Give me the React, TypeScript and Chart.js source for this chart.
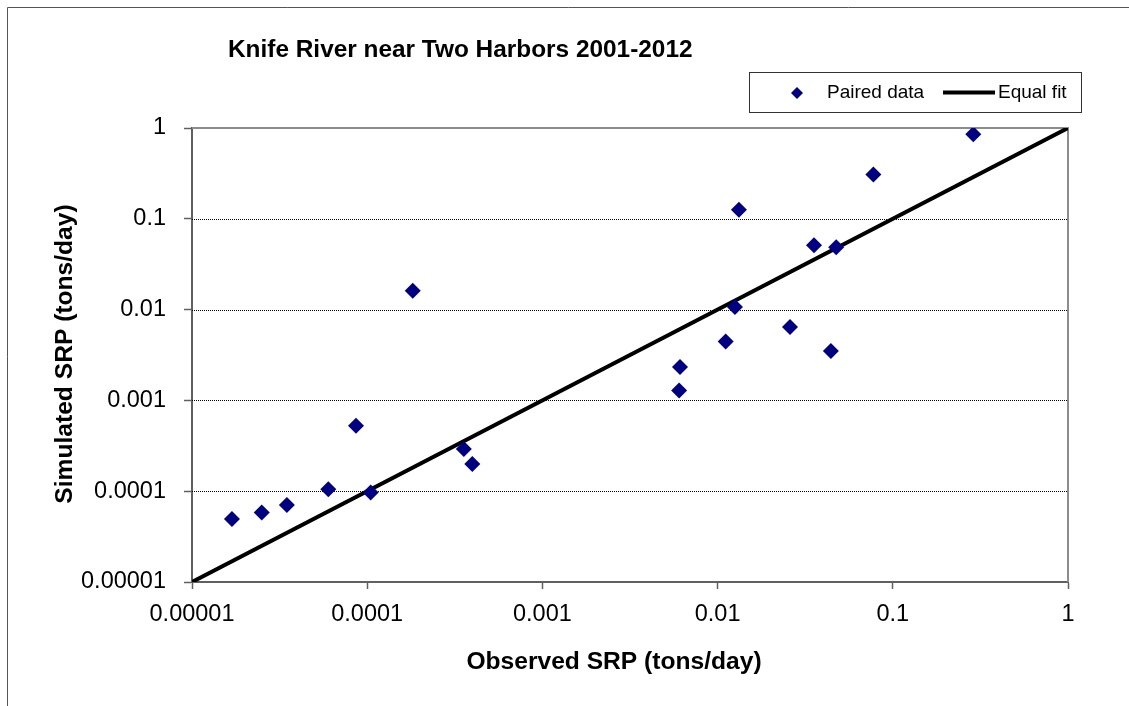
import { useEffect, useRef } from "react";
import { Chart, registerables } from "chart.js";

Chart.register(...registerables);

const chartTitle = "Knife River near Two Harbors 2001-2012";
const xAxisTitle = "Observed SRP (tons/day)";
const yAxisTitle = "Simulated SRP (tons/day)";
const pairedLabel = "Paired data";
const fitLabel = "Equal fit";

const observed = [
  1.69e-5, 2.5e-5, 3.48e-5, 6.0e-5, 8.63e-5, 1.047e-4, 1.82e-4, 3.56e-4, 3.98e-4,
  6.03e-3, 6.1e-3, 0.01112, 0.01256, 0.01324, 0.0259, 0.0355, 0.0443, 0.0475, 0.0775, 0.288,
];
const simulated = [
  4.95e-5, 5.81e-5, 7.06e-5, 1.05e-4, 5.25e-4, 9.66e-5, 0.01615, 2.92e-4, 1.99e-4,
  1.285e-3, 2.33e-3, 4.46e-3, 0.01069, 0.1254, 6.43e-3, 0.051, 3.5e-3, 0.0485, 0.307, 0.855,
];
const fitX = [0.00001, 1];
const fitY = [0.00001, 1];
const tickValues = [0.00001, 0.0001, 0.001, 0.01, 0.1, 1];
const tickLabels = ["0.00001", "0.0001", "0.001", "0.01", "0.1", "1"];
const gridValues = [0.0001, 0.001, 0.01, 0.1];

const FONT = "'Liberation Sans', Arial, sans-serif";
const MARKER = "#000080";

const decorPlugin = {
  id: "decor",
  beforeDatasetsDraw(chart: any) {
    const { ctx, chartArea: a, scales } = chart;
    const y = scales.y;
    ctx.save();
    ctx.strokeStyle = "#000";
    ctx.lineWidth = 1;
    ctx.setLineDash([1, 1]);
    gridValues.forEach((v) => {
      const py = Math.round(y.getPixelForValue(v)) + 0.5;
      ctx.beginPath();
      ctx.moveTo(a.left, py);
      ctx.lineTo(a.right, py);
      ctx.stroke();
    });
    ctx.setLineDash([]);
    ctx.strokeStyle = "#8c8c8c";
    ctx.lineWidth = 2;
    ctx.beginPath();
    ctx.moveTo(a.left, a.top);
    ctx.lineTo(a.right, a.top);
    ctx.lineTo(a.right, a.bottom);
    ctx.stroke();
    ctx.restore();
  },
  afterDraw(chart: any) {
    const { ctx } = chart;
    ctx.save();
    // outer frame
    ctx.strokeStyle = "#555";
    ctx.lineWidth = 1;
    ctx.beginPath();
    ctx.moveTo(7.5, 706);
    ctx.lineTo(7.5, 7.5);
    ctx.lineTo(1129, 7.5);
    ctx.stroke();

    // title
    ctx.fillStyle = "#000";
    ctx.font = `bold 24.4px ${FONT}`;
    ctx.textAlign = "left";
    ctx.textBaseline = "alphabetic";
    ctx.fillText(chartTitle, 228, 57);

    // axis titles
    ctx.font = `bold 24.6px ${FONT}`;
    ctx.textAlign = "center";
    ctx.fillText(xAxisTitle, 614, 669);
    ctx.save();
    ctx.translate(72, 354);
    ctx.rotate(-Math.PI / 2);
    ctx.fillText(yAxisTitle, 0, 0);
    ctx.restore();

    // legend
    const ds = chart.data.datasets;
    ctx.fillStyle = "#fff";
    ctx.fillRect(749, 72, 332, 40);
    ctx.strokeStyle = "#333";
    ctx.lineWidth = 1;
    ctx.strokeRect(749.5, 72.5, 332, 40);
    ctx.fillStyle = MARKER;
    ctx.beginPath();
    ctx.moveTo(797, 87);
    ctx.lineTo(803, 93);
    ctx.lineTo(797, 99);
    ctx.lineTo(791, 93);
    ctx.closePath();
    ctx.fill();
    ctx.strokeStyle = "#000";
    ctx.lineWidth = 4;
    ctx.beginPath();
    ctx.moveTo(943, 92.5);
    ctx.lineTo(995, 92.5);
    ctx.stroke();
    ctx.fillStyle = "#000";
    ctx.font = `19px ${FONT}`;
    ctx.textAlign = "left";
    ctx.fillText(ds[0].label, 827, 98);
    ctx.fillText(ds[1].label, 998, 98);
    ctx.restore();
  },
};

export default function App() {
  const ref = useRef<HTMLCanvasElement>(null);

  useEffect(() => {
    if (!ref.current) return;
    const axisCommon = (isX: boolean) => ({
      type: "logarithmic" as const,
      min: 0.00001,
      max: 1,
      afterBuildTicks: (scale: any) => {
        scale.ticks = tickValues.map((v) => ({ value: v }));
      },
      ticks: {
        autoSkip: false,
        maxRotation: 0,
        padding: isX ? 11 : 18,
        color: "#000",
        font: { family: FONT, size: 23.5 },
        callback: (_v: any, i: number) => tickLabels[i],
      },
      grid: {
        drawOnChartArea: false,
        drawTicks: true,
        tickLength: isX ? 7 : 8,
        tickColor: "#606060",
        tickWidth: 1.5,
        color: "#606060",
      },
      border: { display: true, color: "#606060", width: 2 },
      title: { display: false },
    });

    const chart = new Chart(ref.current, {
      type: "scatter",
      data: {
        datasets: [
          {
            label: pairedLabel,
            data: observed.map((x, i) => ({ x, y: simulated[i] })),
            pointStyle: "rectRot",
            pointRadius: 8,
            pointBorderWidth: 0,
            backgroundColor: MARKER,
            borderColor: MARKER,
          },
          {
            label: fitLabel,
            data: fitX.map((x, i) => ({ x, y: fitY[i] })),
            showLine: true,
            pointRadius: 0,
            borderColor: "#000",
            borderWidth: 4,
            backgroundColor: "#000",
          },
        ],
      },
      options: {
        animation: false,
        responsive: false,
        devicePixelRatio: 1,
        layout: { padding: { left: 0, right: 61, top: 128, bottom: 24 } },
        plugins: {
          legend: { display: false },
          title: { display: false },
          tooltip: { enabled: false },
        },
        scales: {
          x: {
            ...axisCommon(true),
            position: "bottom",
            afterFit: (s: any) => {
              s.height = 100;
            },
          },
          y: {
            ...axisCommon(false),
            position: "left",
            afterFit: (s: any) => {
              s.width = 192;
            },
          },
        },
      },
      plugins: [decorPlugin],
    } as any);
    return () => chart.destroy();
  }, []);

  return (
    <div
      style={{
        position: "fixed",
        left: 0,
        top: 0,
        width: 1129,
        height: 706,
        background: "#fff",
      }}
    >
      <canvas ref={ref} width={1129} height={706} />
    </div>
  );
}
